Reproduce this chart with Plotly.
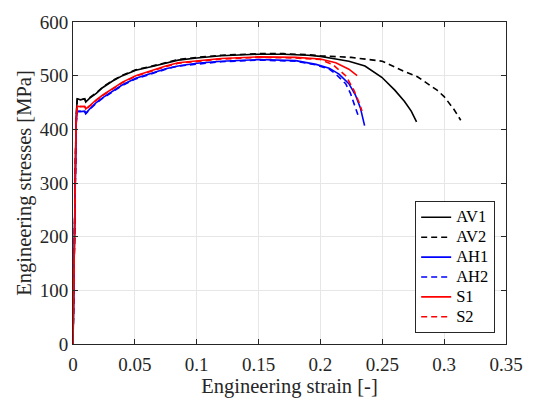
import plotly.graph_objects as go

# Engineering stress-strain curves for six tensile specimens
av1_strain = [0, 0.0025, 0.0034, 0.006, 0.0095, 0.0103, 0.0135, 0.0188, 0.0241, 0.032, 0.04,
              0.0507, 0.064, 0.075, 0.085, 0.1, 0.12, 0.15, 0.17, 0.19, 0.2, 0.21, 0.223, 0.236,
              0.2496, 0.2601, 0.268, 0.2734, 0.2777]
av1_stress = [0, 420, 457, 455, 457, 451, 458, 467, 478, 490, 500,
              510, 517, 524, 529, 533, 537, 540, 540, 538, 536, 532, 527, 518,
              497, 473, 452, 434, 414]

av2_strain = [0, 0.0025, 0.0034, 0.006, 0.0095, 0.0103, 0.0135, 0.0188, 0.0241, 0.032, 0.04,
              0.0507, 0.064, 0.075, 0.085, 0.1, 0.12, 0.15, 0.17, 0.19, 0.2, 0.225, 0.25,
              0.2601, 0.2665, 0.2784, 0.2864, 0.2943, 0.3, 0.304, 0.308, 0.3134]
av2_stress = [0, 418, 456, 457, 456, 452, 459, 468, 479, 491, 501,
              511, 518, 525, 530, 534, 538, 541, 541, 539, 537, 534, 527,
              516, 509, 498, 486, 473, 461, 449, 437, 417]

ah1_strain = [0, 0.0025, 0.0034, 0.006, 0.0095, 0.0103, 0.0135, 0.0188, 0.0241, 0.032, 0.04,
              0.0507, 0.064, 0.075, 0.085, 0.1, 0.12, 0.15, 0.18, 0.1965, 0.2071, 0.215,
              0.223, 0.2283, 0.2323, 0.2357]
ah1_stress = [0, 410, 434, 433, 434, 430, 438, 450, 459, 471, 483,
              495, 505, 513, 518, 523, 527, 530, 528, 521, 514, 503,
              485, 464, 440, 407]

ah2_strain = [0, 0.0025, 0.0034, 0.006, 0.0095, 0.0103, 0.0135, 0.0188, 0.0241, 0.032, 0.04,
              0.0507, 0.064, 0.075, 0.085, 0.1, 0.12, 0.15, 0.18, 0.1965, 0.2071, 0.2124,
              0.2204, 0.2243, 0.2283, 0.2309]
ah2_stress = [0, 408, 433, 434, 433, 429, 437, 449, 458, 470, 482,
              494, 504, 512, 518, 522, 526, 529, 527, 520, 512, 503,
              485, 467, 440, 423]

s1_strain = [0, 0.0025, 0.0034, 0.006, 0.0095, 0.0103, 0.0135, 0.0188, 0.0241, 0.032, 0.04,
             0.0507, 0.064, 0.075, 0.085, 0.1, 0.12, 0.15, 0.18, 0.2, 0.2124, 0.223, 0.2297]
s1_stress = [0, 415, 443, 442, 443, 438, 444, 455, 464, 476, 488,
             500, 510, 518, 524, 528, 532, 535, 534, 531, 524, 512, 500]

s2_strain = [0, 0.0025, 0.0034, 0.006, 0.0095, 0.0103, 0.0135, 0.0188, 0.0241, 0.032, 0.04,
             0.0507, 0.064, 0.075, 0.085, 0.1, 0.12, 0.15, 0.18, 0.2, 0.2098, 0.2204,
             0.227, 0.2309, 0.2336]
s2_stress = [0, 414, 442, 443, 442, 437, 443, 454, 463, 475, 487,
             499, 509, 517, 523, 527, 531, 534, 533, 530, 521, 500,
             473, 452, 434]

series = [
    ("AV1", av1_strain, av1_stress, "#000000", "solid"),
    ("AV2", av2_strain, av2_stress, "#000000", "6px,4px"),
    ("AH1", ah1_strain, ah1_stress, "#0000FF", "solid"),
    ("AH2", ah2_strain, ah2_stress, "#0000FF", "6px,4px"),
    ("S1", s1_strain, s1_stress, "#FF0000", "solid"),
    ("S2", s2_strain, s2_stress, "#FF0000", "6px,4px"),
]

x_ticks = [0, 0.05, 0.1, 0.15, 0.2, 0.25, 0.3, 0.35]
x_tick_text = ["0", "0.05", "0.1", "0.15", "0.2", "0.25", "0.3", "0.35"]
y_ticks = [0, 100, 200, 300, 400, 500, 600]

FONT = "Liberation Serif"
AXIS_COLOR = "#262626"
GRID_COLOR = "#e6e6e6"
TICK_SIZE = 19
TITLE_SIZE = 20.5
LEGEND_TEXT_SIZE = 16.5

fig = go.Figure()
for name, xs, ys, color, dash in series:
    fig.add_trace(go.Scatter(
        x=xs, y=ys, mode="lines",
        # legend rows are spaced from the base legend font; the label itself is set larger
        name=f'<span style="font-size:{LEGEND_TEXT_SIZE}px">{name}</span>',
        line=dict(color=color, width=1.6, dash=dash),
    ))

axis_common = dict(
    showline=True, linecolor=AXIS_COLOR, linewidth=1, mirror="ticks",
    ticks="inside", ticklen=5, tickcolor=AXIS_COLOR, tickwidth=1,
    showgrid=True, gridcolor=GRID_COLOR, gridwidth=1, zeroline=False,
    tickfont=dict(family=FONT, size=TICK_SIZE, color=AXIS_COLOR),
)

fig.update_xaxes(
    range=[0, 0.35], tickvals=x_ticks, ticktext=x_tick_text, ticklabelstandoff=3,
    title=dict(text="Engineering strain [-]", font=dict(family=FONT, size=TITLE_SIZE, color=AXIS_COLOR), standoff=2),
    **axis_common,
)
fig.update_yaxes(
    range=[0, 600], tickvals=y_ticks,
    title=dict(text="Engineering stresses [MPa]", font=dict(family=FONT, size=TITLE_SIZE, color=AXIS_COLOR), standoff=2),
    **axis_common,
)

fig.update_layout(
    width=535, height=403,
    margin=dict(l=73, r=22, t=13, b=58),
    paper_bgcolor="white", plot_bgcolor="white",
    font=dict(family=FONT, size=17, color="#000000"),
    legend=dict(
        x=0.975, y=0.033, xanchor="right", yanchor="bottom",
        bgcolor="white", bordercolor=AXIS_COLOR, borderwidth=1,
        font=dict(family=FONT, size=13, color="#000000"),
        itemwidth=30, tracegroupgap=0,
    ),
    showlegend=True,
)

fig.write_html("out.html")
